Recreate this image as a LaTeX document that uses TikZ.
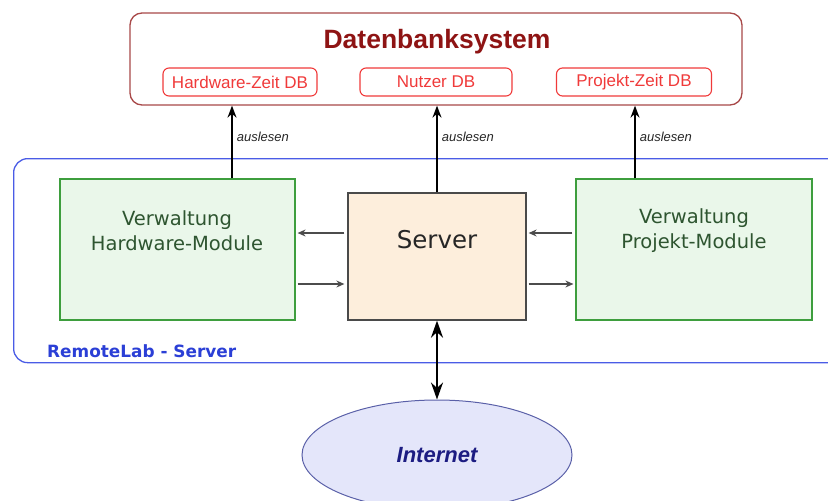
\documentclass[tikz,border=0pt]{standalone}
\usepackage{fontspec}
\setmainfont{Liberation Sans}
\newfontfamily\verd{DejaVu Sans}
\usetikzlibrary{arrows.meta,shapes.geometric,calc}

\definecolor{dbframe}{HTML}{A84848}
\definecolor{dbtitle}{HTML}{8E1414}
\definecolor{dbred}{HTML}{F03A3A}
\definecolor{rlblue}{HTML}{4A5CE6}
\definecolor{rltext}{HTML}{2B3FD6}
\definecolor{modfill}{HTML}{EAF7EA}
\definecolor{modframe}{HTML}{3E9E3E}
\definecolor{modtext}{HTML}{2E5530}
\definecolor{srvfill}{HTML}{FDEEDC}
\definecolor{srvframe}{HTML}{4A4A4A}
\definecolor{netfill}{HTML}{E4E6FA}
\definecolor{netframe}{HTML}{5A60A8}
\definecolor{nettext}{HTML}{1C1C82}

\tikzset{
  dbbox/.style={draw=dbred, line width=1.1pt, rounded corners=6pt, fill=white,
    minimum height=28pt, inner sep=0pt, text=dbred, font=\fontsize{17}{19}\selectfont},
  modbox/.style={draw=modframe, line width=1.2pt, fill=modfill,
    minimum width=236pt, minimum height=141pt, inner sep=0pt},
  modtxt/.style={text=modtext, align=center, font=\verd\fontsize{19.5}{25}\selectfont},
  readarrow/.style={-{Stealth[length=12pt,width=9pt]}, line width=1.6pt, black},
  readlbl/.style={right, inner sep=0pt, xshift=4pt, font=\itshape\fontsize{13}{15}\selectfont, text=black!85},
  flow/.style={-{Stealth[length=8pt,width=7pt]}, line width=1.1pt, black!70},
  netarrow/.style={{Stealth[length=17pt,width=12pt]}-{Stealth[length=17pt,width=12pt]}, line width=2.2pt, black}
}

\begin{document}
\begin{tikzpicture}[x=1pt,y=-1pt]
  \useasboundingbox (0,0) rectangle (828,501);
  \clip (0,0) rectangle (828,501);

  % database system frame
  \node[draw=dbframe, line width=1.3pt, rounded corners=12pt, minimum width=612pt,
        minimum height=92pt, inner sep=0pt] (db) at (436,59) {};
  \node[text=dbtitle, font=\bfseries\fontsize{26.5}{30}\selectfont] (dbname) at (437,42) {Datenbanksystem};
  \node[dbbox, minimum width=154pt] (hwdb) at (240,82) {Hardware-Zeit DB};
  \node[dbbox, minimum width=152pt] (nudb) at (436,82) {Nutzer DB};
  \node[dbbox, minimum width=155pt] (pjdb) at (634,82) {Projekt-Zeit DB};

  % RemoteLab server container
  \node[draw=rlblue, line width=1.3pt, rounded corners=14pt, minimum width=860pt,
        minimum height=204pt, inner sep=0pt, anchor=north west] (rl) at (13,158) {};
  \node[anchor=west, inner sep=0pt, text=rltext, font=\verd\bfseries\fontsize{16.9}{19}\selectfont] (rlname) at (47,351) {RemoteLab - Server};

  % modules and server
  \node[modbox, minimum width=235pt] (hw) at (177.5,249.5) {};
  \node[modtxt] (hwtxt) at (177,231) {Verwaltung\\Hardware-Module};
  \node[modbox] (pm) at (694,249.5) {};
  \node[modtxt] (pmtxt) at (694,231) {Verwaltung\\Projekt-Module};
  \node[draw=srvframe, line width=1.3pt, fill=srvfill, minimum width=178pt,
        minimum height=127pt, inner sep=0pt] (srv) at (437,256.5) {};
  \node[font=\verd\fontsize{24.5}{27}\selectfont, text=black!85] (srvtxt) at (437,240) {Server};

  % internet
  \node[ellipse, draw=netframe, line width=1pt, fill=netfill, minimum width=270pt,
        minimum height=110pt, inner sep=0pt] (net) at (437,455) {};
  \node[text=nettext, font=\bfseries\itshape\fontsize{22}{24}\selectfont] (nettxt) at (437,455) {Internet};

  % reading arrows into the databases
  \coordinate (c1) at (232,0);
  \coordinate (c2) at (437,0);
  \coordinate (c3) at (635,0);
  \draw[readarrow] (hw.north -| c1) -- node[readlbl, pos=0.57] {auslesen} (db.south -| c1);
  \draw[readarrow] (srv.north -| c2) -- node[readlbl, pos=0.64] {auslesen} (db.south -| c2);
  \draw[readarrow] (pm.north -| c3) -- node[readlbl, pos=0.57] {auslesen} (db.south -| c3);

  % data flow between server and modules
  \coordinate (u) at (0,233);
  \coordinate (l) at (0,284);
  \draw[flow, shorten <=3pt, shorten >=2pt] (srv.west |- u) -- (hw.east |- u);
  \draw[flow, shorten <=2pt, shorten >=3pt] (hw.east |- l) -- (srv.west |- l);
  \draw[flow, shorten <=3pt, shorten >=2pt] (pm.west |- u) -- (srv.east |- u);
  \draw[flow, shorten <=2pt, shorten >=2pt] (srv.east |- l) -- (pm.west |- l);

  % connection to the internet
  \draw[netarrow] (srv.south) -- (net.north);
\end{tikzpicture}
\end{document}
